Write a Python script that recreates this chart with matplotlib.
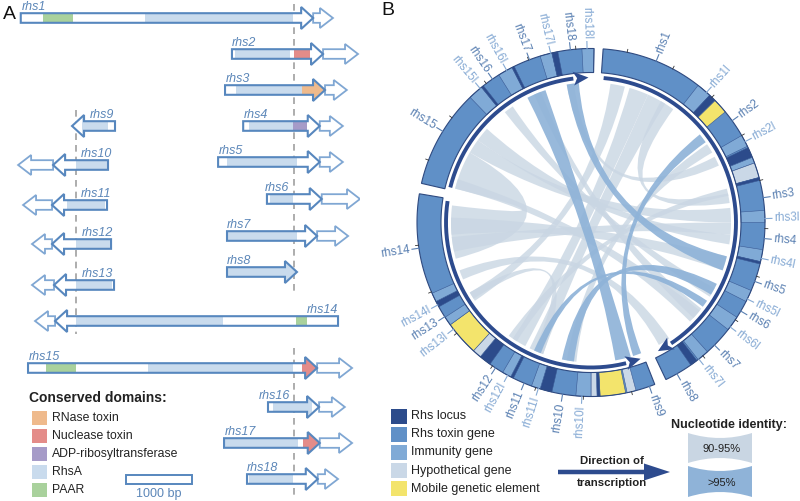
import numpy as np
import matplotlib.pyplot as plt
from matplotlib.patches import Polygon, Rectangle, PathPatch, FancyArrow
from matplotlib.path import Path

plt.rcParams['font.family'] = ['Liberation Sans', 'DejaVu Sans']

# ---------------- panel A data (bp, 0 = start of the variable C-terminal region)
gene_names = ['rhs1', 'rhs2', 'rhs3', 'rhs4', 'rhs5', 'rhs6', 'rhs7', 'rhs8', 'rhs9',
              'rhs10', 'rhs11', 'rhs12', 'rhs13', 'rhs14', 'rhs15', 'rhs16', 'rhs17', 'rhs18']
gene_left = [-4140, -940, -1045, -770, -1150, -410, -1015, -1015, -3363,
             -3650, -3666, -3666, -3636, -3620, -4030, -394, -1060, -712]
gene_right = [290, 440, 470, 390, 390, 420, 350, 45, -2712,
              -2818, -2833, -2772, -2727, 667, 350, 380, 390, 360]
gene_strand = [1, 1, 1, 1, 1, 1, 1, 1, -1, -1, -1, -1, -1, -1, 1, 1, 1, 1]
imm_left = [290, 440, 470, 390, 390, 420, 350, None, None,
            -4180, -4105, -3970, -3970, -3924, 350, 380, 390, 360]
imm_right = [590, 970, 800, 740, 740, 1000, 820, None, None,
             -3650, -3666, -3666, -3636, -3620, 880, 770, 880, 667]

dom_gene = ['rhs1', 'rhs1', 'rhs2', 'rhs2', 'rhs3', 'rhs3', 'rhs4', 'rhs4', 'rhs5', 'rhs6',
            'rhs7', 'rhs8', 'rhs9', 'rhs10', 'rhs11', 'rhs12', 'rhs13', 'rhs14', 'rhs14',
            'rhs15', 'rhs15', 'rhs15', 'rhs16', 'rhs17', 'rhs17', 'rhs18']
dom_kind = ['PAAR', 'RhsA', 'RhsA', 'Nuclease toxin', 'RhsA', 'RNase toxin', 'RhsA',
            'ADP-ribosyltransferase', 'RhsA', 'RhsA', 'RhsA', 'RhsA', 'RhsA', 'RhsA', 'RhsA',
            'RhsA', 'RhsA', 'RhsA', 'PAAR', 'PAAR', 'RhsA', 'Nuclease toxin', 'RhsA', 'RhsA',
            'Nuclease toxin', 'RhsA']
dom_left = [-3800, -2260, -890, 0, -880, 120, -680, -15, -1015, -365, -1015, -1015, -3212,
            -3303, -3440, -3303, -3303, -3303, 30, -3757, -2212, 120, -318, -1060, 135, -680]
dom_right = [-3350, -20, -60, 240, 120, 470, -15, 200, 45, -15, 45, 45, -2818,
             -2818, -2863, -2788, -2757, -1076, 197, -3303, -15, 350, 273, 60, 390, -15]

legend_a = ['RNase toxin', 'Nuclease toxin', 'ADP-ribosyltransferase', 'RhsA', 'PAAR']
dom_colors = {'RNase toxin': '#efba8c', 'Nuclease toxin': '#e48c89',
              'ADP-ribosyltransferase': '#a69bc8', 'RhsA': '#c9dbed', 'PAAR': '#a9d19c'}

# ---------------- panel B data (degrees clockwise from top)
contig_start = [4, 158.5, 283]
contig_end = [154.5, 279.5, 361]
contig_dir = [1, -1, 1]

band_start = [38, 43, 45.5, 60, 64.5, 68, 70, 75, 86, 99, 103, 113, 123, 138, 142.5,
              165, 168.5, 177, 178, 180, 193, 197, 206.5, 207.5, 215.5, 219.5, 222.5, 234,
              241, 243, 316, 321, 328, 333, 343, 347, 357]
band_end = [43, 45.5, 50.5, 64, 68, 70, 75, 76, 90, 103, 103.8, 117, 128, 142, 145,
            168, 177, 178, 180, 185, 197, 200, 207.5, 210.5, 219.5, 222.5, 234, 237,
            243, 246, 321, 321.8, 333, 333.8, 347, 349, 361]
band_type = ['Immunity gene', 'Rhs locus', 'Mobile genetic element', 'Immunity gene',
             'Rhs locus', 'Immunity gene', 'Hypothetical gene', 'Rhs locus', 'Immunity gene',
             'Immunity gene', 'Rhs locus', 'Immunity gene', 'Immunity gene', 'Immunity gene',
             'Rhs locus', 'Hypothetical gene', 'Mobile genetic element', 'Rhs locus',
             'Hypothetical gene', 'Immunity gene', 'Rhs locus', 'Immunity gene', 'Rhs locus',
             'Immunity gene', 'Rhs locus', 'Hypothetical gene', 'Mobile genetic element',
             'Immunity gene', 'Rhs locus', 'Immunity gene', 'Immunity gene', 'Rhs locus',
             'Immunity gene', 'Rhs locus', 'Immunity gene', 'Rhs locus', 'Immunity gene']

lab_name = ['rhs1', 'rhs1l', 'rhs2', 'rhs2l', 'rhs3', 'rhs3l', 'rhs4', 'rhs4l', 'rhs5',
            'rhs5l', 'rhs6', 'rhs6l', 'rhs7', 'rhs7l', 'rhs8', 'rhs9', 'rhs10l', 'rhs10',
            'rhs11l', 'rhs11', 'rhs12l', 'rhs12', 'rhs13l', 'rhs13', 'rhs14l', 'rhs14',
            'rhs15', 'rhs15l', 'rhs16', 'rhs16l', 'rhs17', 'rhs17l', 'rhs18', 'rhs18l']
lab_angle = [22, 41.6, 54.2, 62.3, 81.8, 88.7, 95.3, 101.9, 109.8, 116.1, 120.6, 126.9,
             134.8, 141.7, 150.4, 160.4, 183, 189.4, 197.6, 202.6, 208.6, 213.3, 232.2,
             237.2, 241.7, 261.5, 301.6, 320.4, 325.5, 331, 339.3, 346.6, 353.2, 358.7]

# ribbons: (a0, a1) <-> (b0, b1); identity 0 = 90-95 %, 1 = >95 %
ch_a0 = [284, 300, 306, 265, 258, 16, 24, 8, 30, 350, 322, 336, 146, 129, 200, 212, 186,
         333, 350, 51, 116, 124]
ch_a1 = [300, 306, 312, 272, 264, 24, 32, 14, 36, 353, 326, 339, 151, 135, 204, 216, 190,
         341, 355, 55, 121, 127]
ch_b0 = [255, 84, 95, 104, 90, 208, 200, 236, 78, 62, 118, 128, 246, 284, 237, 76, 56,
         163.5, 104, 159, 187, 201]
ch_b1 = [277, 90, 99, 110, 95, 214, 206, 240, 82, 66, 122, 133, 250, 288, 240, 79, 60,
         170, 110, 162.5, 192, 204]
ch_ident = [0] * 17 + [1] * 5

legend_b = ['Rhs locus', 'Rhs toxin gene', 'Immunity gene', 'Hypothetical gene',
            'Mobile genetic element']
ring_colors = {'Rhs locus': '#2c4b8b', 'Rhs toxin gene': '#6090c7',
               'Immunity gene': '#80aad6', 'Hypothetical gene': '#cad8e7',
               'Mobile genetic element': '#f3e46c'}
ident_labels = ['90-95%', '>95%']
ident_colors = ['#c9d6e3', '#8fb3d8']

# ---------------- layout
BP_PX = 1000 / 66.0            # bp per pixel in panel A
row_y = [18, 54, 90, 126, 162, 199, 236, 272, 126, 165, 205, 244, 285, 321, 368, 407, 443, 479]
label_x = [-4120, -940, -1030, -760, -1135, -440, -1015, -1015, -3090,
           -3227, -3227, -3212, -3212, 667, -4015, -60, -1045, -712]
label_ha = ['left'] * 13 + ['right', 'left', 'right', 'left', 'left']
edge_main = '#5787be'
edge_imm = '#80a7d3'
txt_blue = '#5b86b8'
dark = '#2d4b8e'

fig = plt.figure(figsize=(8, 5.01), dpi=100)

# ================= panel A
axA = fig.add_axes([0, 0, 0.45, 1])
axA.set_xlim(-294 * BP_PX, 66 * BP_PX)
axA.set_ylim(501, 0)
axA.axis('off')


def arrow_pts(x0, x1, y, d, hb, hh, head):
    head = min(head, x1 - x0)
    if d > 0:
        xb = x1 - head
        return [(x0, y - hb), (xb, y - hb), (xb, y - hh), (x1, y), (xb, y + hh),
                (xb, y + hb), (x0, y + hb)]
    xb = x0 + head
    return [(x1, y - hb), (xb, y - hb), (xb, y - hh), (x0, y), (xb, y + hh),
            (xb, y + hb), (x1, y + hb)]


# dashed alignment lines
axA.plot([0, 0], [4, 294], ls=(0, (4, 3)), color='#a0a0a0', lw=1.2, zorder=1)
axA.plot([0, 0], [348, 496], ls=(0, (4, 3)), color='#a0a0a0', lw=1.2, zorder=1)
axA.plot([-3303, -3303], [110, 334], ls=(0, (4, 3)), color='#a0a0a0', lw=1.2, zorder=1)

for i, name in enumerate(gene_names):
    y = row_y[i]
    pts = arrow_pts(gene_left[i], gene_right[i], y, gene_strand[i], 4.8, 11, 12 * BP_PX)
    base = Polygon(pts, closed=True, fc='white', ec='none', zorder=2)
    axA.add_patch(base)
    for g, k, l, r in zip(dom_gene, dom_kind, dom_left, dom_right):
        if g == name:
            rect = Rectangle((l, y - 12), r - l, 24, fc=dom_colors[k], ec='none', zorder=3)
            axA.add_patch(rect)
            rect.set_clip_path(base)
    axA.add_patch(Polygon(pts, closed=True, fc='none', ec=edge_main, lw=1.5,
                          joinstyle='miter', zorder=4))
    if imm_left[i] is not None:
        ipts = arrow_pts(imm_left[i], imm_right[i], y, gene_strand[i], 4.8, 10, 13 * BP_PX)
        axA.add_patch(Polygon(ipts, closed=True, fc='white', ec=edge_imm, lw=1.3,
                              joinstyle='miter', zorder=2))
    axA.text(label_x[i], y - 8, name, ha=label_ha[i], va='baseline', style='italic',
             fontsize=9, color=txt_blue, zorder=5)

# scale bar
axA.add_patch(Rectangle((-168 * BP_PX, 475), 1000, 9, fc='white', ec=edge_main, lw=1.4))
axA.text(-168 * BP_PX + 500, 494, '1000 bp', ha='center', va='center', fontsize=9,
         color=txt_blue)

# ================= panel B
axB = fig.add_axes([370 / 800, 0, 430 / 800, 1])
axB.set_xlim(-221, 209)
axB.set_ylim(-278.5, 222.5)
axB.axis('off')

R_OUT, R_IN, R_ARR, R_CH = 174, 150, 145, 140


def polar(theta, r):
    t = np.radians(theta)
    return r * np.sin(t), r * np.cos(t)


def arc(a0, a1, r):
    t = np.linspace(a0, a1, max(3, int(abs(a1 - a0) * 2) + 2))
    x, y = polar(t, r)
    return list(zip(x, y))


def ring_band(a0, a1, **kw):
    pts = arc(a0, a1, R_OUT) + arc(a1, a0, R_IN)
    axB.add_patch(Polygon(pts, closed=True, **kw))


def ribbon(a0, a1, b0, b1, r):
    verts = arc(a0, a1, r)
    codes = [Path.MOVETO] + [Path.LINETO] * (len(verts) - 1)
    verts += [(0, 0), polar(b0, r)]
    codes += [Path.CURVE3, Path.CURVE3]
    pb = arc(b0, b1, r)[1:]
    verts += pb
    codes += [Path.LINETO] * len(pb)
    verts += [(0, 0), polar(a0, r), polar(a0, r)]
    codes += [Path.CURVE3, Path.CURVE3, Path.CLOSEPOLY]
    return Path(verts, codes)


# ribbons
order = sorted(range(len(ch_a0)), key=lambda j: ch_ident[j])
for j in order:
    p = ribbon(ch_a0[j], ch_a1[j], ch_b0[j], ch_b1[j], R_CH)
    axB.add_patch(PathPatch(p, fc=ident_colors[ch_ident[j]], ec='none',
                            alpha=0.8 if ch_ident[j] == 0 else 0.92, zorder=1))

# ring
for cs, ce in zip(contig_start, contig_end):
    ring_band(cs, ce, fc=ring_colors['Rhs toxin gene'], ec='none', zorder=2)
for s, e, t in zip(band_start, band_end, band_type):
    ring_band(s, e, fc=ring_colors[t], ec='#3a5a95', lw=0.4, zorder=3)
for cs, ce in zip(contig_start, contig_end):
    ring_band(cs, ce, fc='none', ec='#2f4a80', lw=0.8, zorder=4)
    for t in np.arange(cs + 8, ce - 2, 16):
        (x0, y0), (x1, y1) = polar(t, R_OUT), polar(t, R_OUT + 3)
        axB.plot([x0, x1], [y0, y1], color='#333333', lw=0.6, zorder=4)

# direction-of-transcription arcs
for cs, ce, d in zip(contig_start, contig_end, contig_dir):
    tip = ce - 2 if d > 0 else cs + 1.5
    start = cs + 1 if d > 0 else ce - 1
    base = tip - 6 * d
    xs, ys = zip(*arc(start, base, R_ARR))
    axB.plot(xs, ys, color=dark, lw=2.8, solid_capstyle='butt', zorder=5)
    head = [polar(base, R_ARR - 7), polar(tip, R_ARR), polar(base, R_ARR + 7),
            polar(base + 1.5 * d, R_ARR)]
    axB.add_patch(Polygon(head, closed=True, fc=dark, ec='none', zorder=5))

# gene labels
for name, ang in zip(lab_name, lab_angle):
    col = '#86aad4' if name.endswith('l') else '#5a80b2'
    (x0, y0), (x1, y1) = polar(ang, R_OUT), polar(ang, R_OUT + 7)
    axB.plot([x0, x1], [y0, y1], color=col, lw=0.8, zorder=4)
    tx, ty = polar(ang, R_OUT + 9)
    if ang <= 180:
        rot, ha = 90 - ang, 'left'
    else:
        rot, ha = 270 - ang, 'right'
    axB.text(tx, ty, name, rotation=rot, rotation_mode='anchor', ha=ha, va='center',
             fontsize=8.5, color=col)

# ================= overlay (legends, panel letters)
axO = fig.add_axes([0, 0, 1, 1])
axO.set_xlim(0, 800)
axO.set_ylim(501, 0)
axO.axis('off')

axO.text(3, 14, 'A', fontsize=14, va='center', ha='left', color='#111111')
axO.text(381, 10, 'B', fontsize=14, va='center', ha='left', color='#111111')

axO.text(29, 398, 'Conserved domains:', fontsize=10, fontweight='bold', va='center',
         color='#222222')
for k, lab in enumerate(legend_a):
    yc = 418 + 18 * k
    axO.add_patch(Rectangle((32, yc - 7), 15, 14, fc=dom_colors[lab], ec='none'))
    axO.text(52, yc, lab, fontsize=8.8, va='center', color='#222222')

for k, lab in enumerate(legend_b):
    yc = 416 + 18.2 * k
    axO.add_patch(Rectangle((391, yc - 7.5), 16, 15, fc=ring_colors[lab], ec='none'))
    axO.text(411, yc, lab, fontsize=9, va='center', color='#222222')

axO.add_patch(FancyArrow(558, 472, 112, 0, width=4.5, head_width=17, head_length=26,
                         length_includes_head=True, color=dark, lw=0))
axO.text(612, 461, 'Direction of', fontsize=8.2, fontweight='bold', ha='center',
         va='center', color='#222222')
axO.text(612, 483, 'transcription', fontsize=8.2, fontweight='bold', ha='center',
         va='center', color='#222222')

axO.text(729, 425, 'Nucleotide identity:', fontsize=9, fontweight='bold', ha='center',
         va='center', color='#222222')
for k, lab in enumerate(ident_labels):
    x0, x1 = 688, 752
    yt, yb = 433 + 33 * k, 463 + 34 * k
    xm = (x0 + x1) / 2
    verts = [(x0, yt), (xm, yt + 10), (x1, yt), (x1, yb), (xm, yb - 10), (x0, yb), (x0, yt)]
    codes = [Path.MOVETO, Path.CURVE3, Path.CURVE3, Path.LINETO, Path.CURVE3, Path.CURVE3,
             Path.CLOSEPOLY]
    axO.add_patch(PathPatch(Path(verts, codes), fc=ident_colors[k], ec='none'))
    axO.text(722, (yt + yb) / 2 + 1, lab, fontsize=8, ha='center', va='center',
             color='#222222')

fig.savefig('out.png', dpi=100)
